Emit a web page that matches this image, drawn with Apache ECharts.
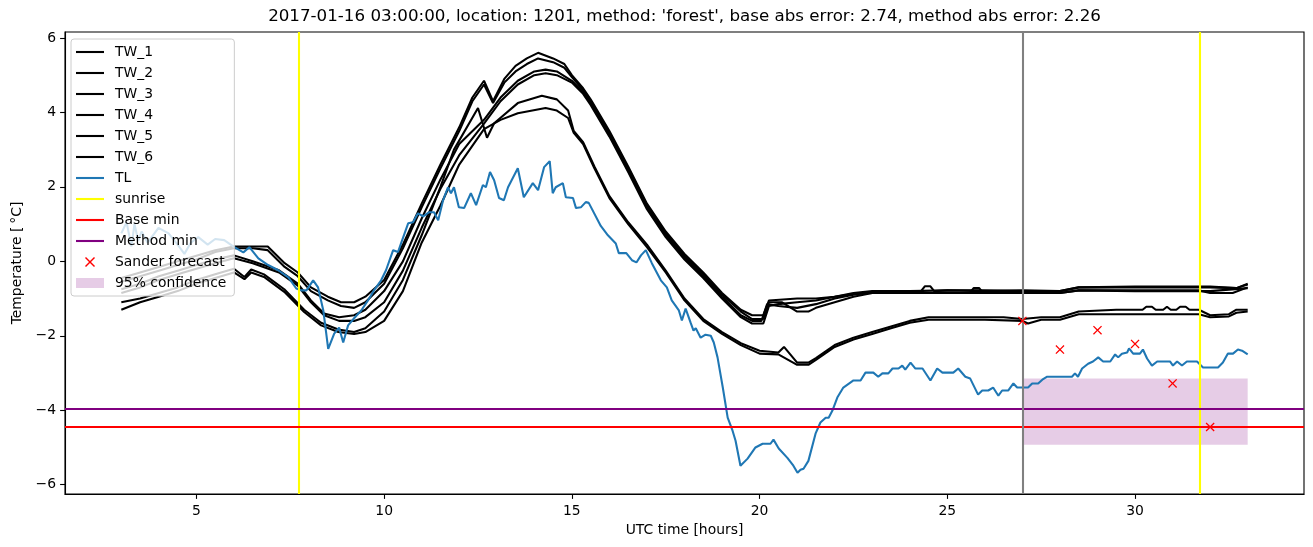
<!DOCTYPE html>
<html><head><meta charset="utf-8">
<script src="https://cdn.jsdelivr.net/npm/echarts@6/dist/echarts.min.js"></script>
<style>html,body{margin:0;padding:0;background:#fff}#c{width:1313px;height:547px}</style>
</head><body><div id="c"></div>
<script>
const titleText = "2017-01-16 03:00:00, location: 1201, method: 'forest', base abs error: 2.74, method abs error: 2.26";
const xTicks = [5, 10, 15, 20, 25, 30];
const yTicks = [-6, -4, -2, 0, 2, 4, 6];

const tw1 = [[3,-0.45],[3.5,-0.3],[4,-0.15],[4.5,0],[5,0.15],[5.5,0.3],[6,0.4],[6.5,0.4],[6.9,0.4],[7.35,-0.05],[7.7,-0.3],[8.05,-0.7],[8.5,-0.95],[8.85,-1.1],[9.2,-1.1],[9.5,-0.95],[10,-0.5],[10.5,0.45],[11,1.55],[11.5,2.6],[12,3.6],[12.35,4.4],[12.66,4.85],[12.9,4.3],[13.2,4.9],[13.5,5.25],[13.8,5.45],[14.1,5.6],[14.5,5.45],[14.8,5.3],[15,5.0],[15.3,4.65],[15.5,4.35],[16,3.5],[16.5,2.55],[17,1.55],[17.5,0.8],[18,0.2],[18.5,-0.3],[19,-0.85],[19.5,-1.3],[19.8,-1.45],[20.1,-1.45],[20.25,-1.05],[21,-1.0],[21.5,-1.0],[22,-0.95],[22.5,-0.85],[23,-0.8],[24,-0.8],[24.3,-0.8],[24.4,-0.67],[24.55,-0.67],[24.65,-0.8],[25,-0.78],[26,-0.78],[27,-0.8],[28,-0.8],[28.5,-0.7],[30,-0.7],[31,-0.7],[32,-0.7],[32.7,-0.72],[33,-0.6]];
const tw2 = [[3,-0.55],[3.5,-0.4],[4,-0.25],[4.5,-0.1],[5,0.05],[5.5,0.25],[6,0.35],[6.5,0.35],[6.9,0.3],[7.35,-0.15],[7.7,-0.4],[8.05,-0.8],[8.5,-1.05],[8.85,-1.2],[9.2,-1.25],[9.5,-1.1],[10,-0.6],[10.5,0.35],[11,1.45],[11.5,2.5],[12,3.5],[12.35,4.3],[12.66,4.75],[12.9,4.25],[13.2,4.8],[13.5,5.1],[13.8,5.3],[14.1,5.45],[14.5,5.35],[14.8,5.2],[15,4.95],[15.3,4.6],[15.5,4.3],[16,3.45],[16.5,2.5],[17,1.5],[17.5,0.75],[18,0.15],[18.5,-0.35],[19,-0.9],[19.5,-1.35],[19.8,-1.55],[20.1,-1.55],[20.25,-1.1],[20.6,-1.1],[21,-1.35],[21.3,-1.35],[21.5,-1.25],[22,-1.1],[22.5,-0.95],[23,-0.85],[24,-0.85],[25,-0.85],[25.6,-0.85],[25.7,-0.72],[25.85,-0.72],[25.95,-0.85],[27,-0.85],[28,-0.85],[28.5,-0.78],[30,-0.78],[31,-0.78],[31.7,-0.78],[32,-0.85],[32.6,-0.85],[33,-0.7]];
const tw3 = [[3,-0.75],[3.5,-0.6],[4,-0.4],[4.5,-0.25],[5,-0.1],[5.5,0.05],[6,0.16],[6.5,0.0],[7.2,-0.24],[7.7,-0.6],[8.05,-1.05],[8.4,-1.4],[8.8,-1.5],[9.2,-1.45],[9.5,-1.3],[10,-0.8],[10.5,0.0],[11,1.15],[11.5,2.2],[12,3.15],[12.66,3.8],[13.1,4.4],[13.56,4.85],[14,5.1],[14.3,5.15],[14.6,5.1],[15,4.85],[15.3,4.55],[15.5,4.25],[16,3.4],[16.5,2.45],[17,1.45],[17.5,0.7],[18,0.1],[18.5,-0.4],[19,-0.95],[19.5,-1.45],[19.8,-1.6],[20.05,-1.6],[20.2,-1.15],[20.5,-1.2],[21,-1.25],[21.5,-1.15],[22,-1.0],[22.5,-0.9],[23,-0.82],[24,-0.8],[25,-0.78],[26,-0.8],[27,-0.78],[28,-0.8],[28.5,-0.7],[30,-0.68],[31,-0.68],[32,-0.68],[32.7,-0.72],[33,-0.62]];
const tw4 = [[3,-0.85],[3.5,-0.7],[4,-0.5],[4.5,-0.35],[5,-0.2],[5.5,-0.05],[6,0.08],[6.5,-0.05],[7.2,-0.3],[7.7,-0.65],[8.05,-1.1],[8.4,-1.45],[8.8,-1.6],[9.2,-1.6],[9.5,-1.5],[10,-1.1],[10.5,-0.25],[11,0.9],[11.5,1.95],[12,2.85],[12.66,3.7],[13.1,4.3],[13.56,4.75],[14,5.0],[14.3,5.05],[14.6,5.0],[15,4.8],[15.3,4.5],[15.5,4.2],[16,3.35],[16.5,2.4],[17,1.4],[17.5,0.65],[18,0.05],[18.5,-0.45],[19,-1.0],[19.5,-1.5],[19.8,-1.67],[20.1,-1.67],[20.25,-1.2],[20.5,-1.15],[21,-1.1],[21.5,-1.05],[22,-0.95],[22.5,-0.88],[23,-0.85],[24,-0.85],[25,-0.85],[26,-0.85],[27,-0.83],[28,-0.85],[28.5,-0.78],[30,-0.8],[31,-0.8],[32,-0.8],[33,-0.72]];
const tw5 = [[3,-1.1],[3.5,-1.0],[4,-0.85],[4.5,-0.7],[5,-0.5],[5.5,-0.35],[6,-0.2],[6.28,-0.42],[6.46,-0.22],[6.8,-0.35],[7.34,-0.75],[7.87,-1.3],[8.32,-1.65],[8.78,-1.83],[9.2,-1.9],[9.5,-1.8],[10,-1.35],[10.5,-0.5],[11,0.7],[11.5,2.0],[11.86,3.0],[12.5,4.12],[12.74,3.32],[12.93,3.71],[13.56,4.25],[14.2,4.45],[14.6,4.35],[14.9,4.05],[15.05,3.5],[15.3,3.2],[15.6,2.55],[16,1.75],[16.5,1.05],[17,0.45],[17.5,-0.25],[18,-1.0],[18.5,-1.55],[19,-1.9],[19.5,-2.2],[20,-2.4],[20.5,-2.45],[20.65,-2.3],[21,-2.72],[21.3,-2.72],[21.5,-2.6],[22,-2.25],[22.5,-2.05],[23,-1.9],[23.5,-1.75],[24,-1.6],[24.5,-1.5],[25,-1.5],[26,-1.5],[26.5,-1.5],[27,-1.55],[27.5,-1.5],[28,-1.5],[28.5,-1.35],[29.5,-1.3],[30.2,-1.3],[30.3,-1.22],[30.45,-1.22],[30.55,-1.3],[30.75,-1.3],[30.85,-1.22],[30.95,-1.3],[31.1,-1.3],[31.2,-1.22],[31.35,-1.22],[31.45,-1.3],[31.7,-1.3],[32,-1.45],[32.5,-1.42],[32.7,-1.3],[33,-1.3]];
const tw6 = [[3,-1.3],[3.5,-1.1],[4,-0.95],[4.5,-0.8],[5,-0.6],[5.5,-0.45],[6,-0.3],[6.28,-0.48],[6.46,-0.3],[6.8,-0.42],[7.34,-0.82],[7.87,-1.36],[8.32,-1.72],[8.78,-1.9],[9.2,-1.95],[9.5,-1.9],[10,-1.6],[10.5,-0.8],[11,0.5],[11.5,1.5],[12,2.6],[12.66,3.55],[13.1,3.8],[13.56,3.98],[14.3,4.12],[14.6,4.05],[14.9,3.85],[15.05,3.45],[15.3,3.15],[15.6,2.5],[16,1.7],[16.5,1.0],[17,0.38],[17.5,-0.3],[18,-1.05],[18.5,-1.6],[19,-1.95],[19.5,-2.25],[20,-2.48],[20.5,-2.5],[21,-2.78],[21.3,-2.78],[21.5,-2.65],[22,-2.3],[22.5,-2.1],[23,-1.95],[23.5,-1.8],[24,-1.65],[24.5,-1.57],[25,-1.57],[26,-1.57],[27,-1.6],[27.15,-1.67],[27.5,-1.57],[28,-1.57],[28.5,-1.42],[30,-1.42],[31,-1.42],[31.7,-1.42],[32,-1.5],[32.5,-1.48],[32.7,-1.38],[33,-1.35]];
const tl = [[3.0,0.75],[3.14,1.05],[3.27,0.4],[3.35,1.0],[3.45,0.55],[3.54,0.8],[3.7,0.5],[3.99,0.9],[4.26,0.75],[4.5,0.45],[4.68,0.2],[4.85,0.5],[5.05,0.65],[5.3,0.45],[5.5,0.6],[5.74,0.57],[6.01,0.38],[6.25,0.24],[6.41,0.38],[6.65,0.08],[6.91,-0.1],[7.18,-0.24],[7.45,-0.43],[7.66,-0.73],[7.79,-0.78],[7.93,-0.78],[8.11,-0.51],[8.24,-0.7],[8.38,-1.32],[8.51,-2.35],[8.67,-1.94],[8.8,-1.78],[8.91,-2.18],[9.04,-1.72],[9.2,-1.53],[9.39,-1.32],[9.57,-1.05],[9.73,-0.78],[9.92,-0.51],[10.05,-0.24],[10.24,0.3],[10.37,0.25],[10.45,0.48],[10.64,1.02],[10.77,1.05],[10.9,1.29],[11.04,1.21],[11.2,1.32],[11.33,1.32],[11.44,1.1],[11.57,1.64],[11.7,1.99],[11.78,1.83],[11.86,1.99],[11.99,1.45],[12.13,1.43],[12.31,1.83],[12.45,1.51],[12.63,2.05],[12.71,1.99],[12.82,2.4],[12.93,2.18],[13.06,1.7],[13.19,1.64],[13.3,1.99],[13.56,2.5],[13.72,1.72],[13.96,2.1],[14.1,1.91],[14.26,2.53],[14.41,2.69],[14.49,1.83],[14.57,1.99],[14.76,2.1],[14.84,1.72],[15.03,1.7],[15.11,1.43],[15.24,1.45],[15.37,1.59],[15.45,1.57],[15.77,0.95],[15.96,0.7],[16.17,0.48],[16.25,0.22],[16.45,0.22],[16.6,0.03],[16.72,-0.03],[16.84,0.16],[16.97,0.3],[17.13,-0.05],[17.37,-0.51],[17.53,-0.7],[17.66,-1.05],[17.85,-1.32],[17.93,-1.59],[18.03,-1.27],[18.16,-1.64],[18.24,-1.86],[18.3,-1.8],[18.43,-2.05],[18.56,-1.97],[18.7,-2.0],[18.78,-2.18],[18.88,-2.58],[19.02,-3.39],[19.15,-4.2],[19.28,-4.55],[19.36,-4.82],[19.49,-5.49],[19.68,-5.3],[19.89,-5.0],[20.08,-4.9],[20.29,-4.9],[20.37,-4.79],[20.51,-5.03],[20.74,-5.28],[20.9,-5.49],[21.01,-5.68],[21.09,-5.6],[21.17,-5.57],[21.3,-5.36],[21.49,-4.63],[21.62,-4.33],[21.76,-4.2],[21.84,-4.2],[21.94,-4.01],[22.07,-3.66],[22.23,-3.39],[22.5,-3.2],[22.69,-3.2],[22.82,-2.99],[23.03,-2.99],[23.16,-3.1],[23.27,-3.01],[23.43,-3.01],[23.54,-2.88],[23.7,-2.88],[23.8,-2.8],[23.88,-2.91],[24.02,-2.72],[24.15,-2.88],[24.34,-2.88],[24.55,-3.2],[24.73,-2.88],[24.87,-2.99],[25.16,-2.99],[25.29,-2.88],[25.48,-3.1],[25.61,-3.15],[25.82,-3.58],[25.93,-3.47],[26.09,-3.47],[26.22,-3.39],[26.36,-3.61],[26.46,-3.47],[26.62,-3.47],[26.76,-3.28],[26.86,-3.39],[27.15,-3.39],[27.26,-3.28],[27.42,-3.28],[27.53,-3.18],[27.66,-3.1],[28.32,-3.1],[28.4,-3.01],[28.48,-3.1],[28.59,-2.88],[28.75,-2.75],[28.88,-2.69],[29.02,-2.58],[29.15,-2.69],[29.34,-2.69],[29.47,-2.5],[29.55,-2.58],[29.65,-2.48],[29.79,-2.45],[29.84,-2.34],[29.95,-2.48],[30.13,-2.48],[30.21,-2.37],[30.32,-2.61],[30.45,-2.8],[30.59,-2.69],[30.93,-2.69],[31.01,-2.8],[31.12,-2.69],[31.25,-2.8],[31.38,-2.69],[31.65,-2.69],[31.81,-2.85],[32.21,-2.85],[32.34,-2.72],[32.47,-2.48],[32.61,-2.48],[32.74,-2.37],[32.85,-2.4],[33.0,-2.5]];

const sanderX = [27, 28, 29, 30, 31, 32];
const sanderY = [-1.6, -2.37, -1.85, -2.22, -3.28, -4.45];
const sunriseX = [7.72, 31.72];
const baseMin = -4.44;
const methodMin = -3.96;
const nowX = 27.0;
const confX = [27, 33];
const confY = [-4.93, -3.15];

const FONT = 'DejaVu Sans';
const LW = 2.08;
const LINE_ICON = 'path://M0,0L28,0L28,2.1L0,2.1Z';
const X_ICON = 'path://M0,1L1,0L5,4L9,0L10,1L6,5L10,9L9,10L5,6L1,10L0,9L4,5Z';
const minus = v => (v < 0 ? '\u2212' : '') + Math.abs(v);

function lineSeries(name, data, color) {
  return { name, type: 'line', data, symbol: 'none', showSymbol: false,
    lineStyle: { color, width: LW }, itemStyle: { color },
    emphasis: { disabled: true }, silent: true, z: 3 };
}
function vhSeries(name, color, lines) {
  return { name, type: 'line', data: [], itemStyle: { color }, lineStyle: { color }, z: 4,
    markLine: { silent: true, symbol: 'none', label: { show: false }, animation: false,
      lineStyle: { color, width: LW, type: 'solid' }, data: lines } };
}

const series = [
  lineSeries('TW_1', tw1, '#000'),
  lineSeries('TW_2', tw2, '#000'),
  lineSeries('TW_3', tw3, '#000'),
  lineSeries('TW_4', tw4, '#000'),
  lineSeries('TW_5', tw5, '#000'),
  lineSeries('TW_6', tw6, '#000'),
  lineSeries('TL', tl, '#1f77b4'),
  vhSeries('sunrise', '#ffff00', sunriseX.map(x => ({ xAxis: x }))),
  vhSeries('Base min', '#ff0000', [{ yAxis: baseMin }]),
  vhSeries('Method min', '#800080', [{ yAxis: methodMin }]),
  vhSeries('now', '#808080', [{ xAxis: nowX }]),
  { name: 'Sander forecast', type: 'scatter', data: sanderX.map((x, i) => [x, sanderY[i]]),
    symbol: X_ICON, symbolSize: 9, itemStyle: { color: '#ff0000', opacity: 1 }, silent: true, z: 5 },
  { name: '95% confidence', type: 'line', data: [], itemStyle: { color: 'rgba(128,0,128,0.2)' }, z: 1,
    markArea: { silent: true, animation: false, itemStyle: { color: 'rgba(128,0,128,0.2)' },
      data: [[{ xAxis: confX[0], yAxis: confY[1] }, { xAxis: confX[1], yAxis: confY[0] }]] } }
];

const legendData = ['TW_1','TW_2','TW_3','TW_4','TW_5','TW_6','TL','sunrise','Base min','Method min']
  .map(n => ({ name: n, icon: LINE_ICON }))
  .concat([{ name: 'Sander forecast', icon: X_ICON, itemStyle: { opacity: 1 } }, { name: '95% confidence', icon: 'rect' }]);

const chart = echarts.init(document.getElementById('c'), null, { renderer: 'canvas' });
chart.setOption({
  animation: false,
  backgroundColor: '#fff',
  textStyle: { fontFamily: FONT },
  graphic: [{ type: 'text', x: 684.5, y: 17, silent: true,
    style: { text: titleText, font: '16.7px "DejaVu Sans"', fill: '#000', textAlign: 'center', textVerticalAlign: 'middle' } }],
  grid: { left: 65, right: 9, top: 32, bottom: 53, show: true, borderColor: '#000', borderWidth: 1.1, backgroundColor: 'transparent' },
  legend: {
    data: legendData, orient: 'vertical', left: 71, top: 39, selectedMode: false,
    itemWidth: 28, itemHeight: 10, itemGap: 7, padding: [6, 8, 6, 5],
    symbolKeepAspect: true,
    backgroundColor: 'rgba(255,255,255,0.8)', borderColor: '#cccccc', borderWidth: 1, borderRadius: 3,
    textStyle: { fontFamily: FONT, fontSize: 13.9, color: '#000', lineHeight: 14, padding: [0, 0, 0, 6] }
  },
  xAxis: {
    type: 'value', min: 1.5, max: 34.5,
    name: 'UTC time [hours]', nameLocation: 'middle', nameGap: 29,
    nameTextStyle: { fontFamily: FONT, fontSize: 13.9, color: '#000' },
    axisLine: { show: true, onZero: false, lineStyle: { color: '#000', width: 1.1 } },
    axisTick: { show: true, length: 4.9, inside: false, lineStyle: { color: '#000', width: 1.1 }, customValues: xTicks },
    axisLabel: { customValues: xTicks, margin: 10, fontFamily: FONT, fontSize: 13.9, color: '#000', formatter: minus },
    splitLine: { show: false }
  },
  yAxis: {
    type: 'value', min: -6.25, max: 6.16,
    name: 'Temperature [\u2009\u00b0C]', nameLocation: 'middle', nameGap: 38, nameRotate: 90,
    nameTextStyle: { fontFamily: FONT, fontSize: 13.9, color: '#000' },
    axisLine: { show: true, onZero: false, lineStyle: { color: '#000', width: 1.1 } },
    axisTick: { show: true, length: 4.9, inside: false, lineStyle: { color: '#000', width: 1.1 }, customValues: yTicks },
    axisLabel: { customValues: yTicks, margin: 9, fontFamily: FONT, fontSize: 13.9, color: '#000', formatter: minus },
    splitLine: { show: false }
  },
  series
});
</script></body></html>
